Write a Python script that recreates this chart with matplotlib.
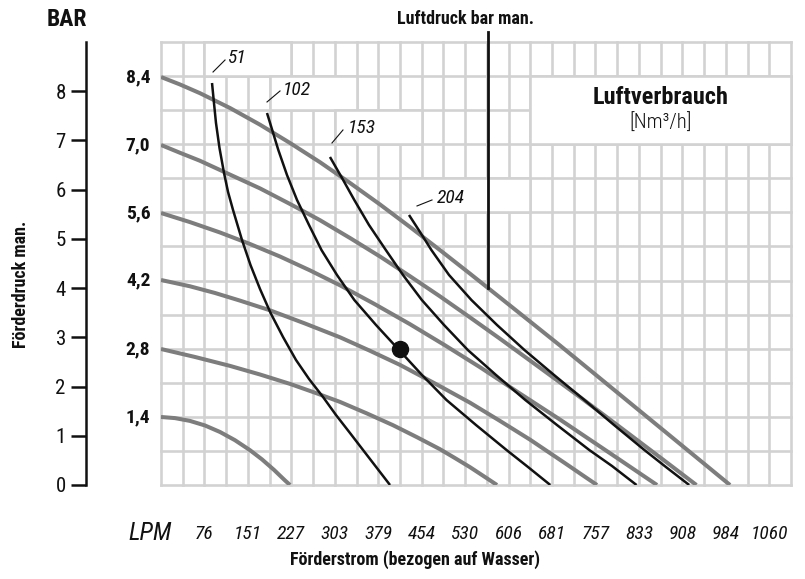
import matplotlib
matplotlib.use("Agg")
import matplotlib.pyplot as plt
from matplotlib import font_manager as fm
from matplotlib.patches import Rectangle
import numpy as np

# ---------------- font selection ----------------
_names = {f.name for f in fm.fontManager.ttflist}
FONT = "DejaVu Sans"
for cand in ["Roboto Condensed", "Liberation Sans Narrow", "Open Sans Condensed", "DejaVu Sans"]:
    if cand in _names:
        FONT = cand
        break
plt.rcParams["font.family"] = [FONT, "DejaVu Sans"]
plt.rcParams["font.stretch"] = "condensed"

# ---------------- data ----------------
lpm_ticks = [76, 151, 227, 303, 379, 454, 530, 606, 681, 757, 833, 908, 984, 1060]
bar_ticks = [0, 1, 2, 3, 4, 5, 6, 7, 8]

# air pressure curves (grey): Foerderstrom [LPM] vs Foerderdruck [bar]
air_labels = ["1,4", "2,8", "4,2", "5,6", "7,0", "8,4"]
g14_x = [0, 24.4, 50.5, 76.7, 102.8, 128.9, 155.1, 176.0, 196.9, 216.0, 224.8]
g14_y = [1.382, 1.359, 1.302, 1.209, 1.077, 0.910, 0.707, 0.520, 0.307, 0.093, 0.0]
g28_x = [0, 59.2, 120.2, 172.5, 224.8, 268.3, 311.9, 358.9, 404.2, 446.0, 486.1, 512.2, 538.4, 562.8, 585.4]
g28_y = [2.763, 2.601, 2.420, 2.245, 2.054, 1.875, 1.688, 1.453, 1.215, 0.971, 0.727, 0.547, 0.362, 0.175, 0.0]
g42_x = [0, 50.5, 94.1, 137.6, 189.9, 250.9, 311.9, 364.1, 416.4, 477.4, 538.4, 590.6, 642.9, 703.9, 759.6]
g42_y = [4.165, 4.037, 3.901, 3.746, 3.549, 3.281, 3.001, 2.727, 2.440, 2.062, 1.672, 1.302, 0.922, 0.443, 0.0]
g56_x = [0, 50.5, 102.8, 155.1, 207.3, 259.6, 311.9, 372.9, 433.8, 494.8, 555.8, 625.5, 695.2, 782.3, 864.2]
g56_y = [5.526, 5.341, 5.130, 4.896, 4.642, 4.360, 4.057, 3.671, 3.267, 2.838, 2.393, 1.857, 1.329, 0.646, 0.0]
g70_x = [0, 33.1, 67.9, 120.2, 172.5, 224.8, 277.0, 329.3, 381.6, 433.8, 486.1, 538.4, 590.6, 660.3, 730.0,
         799.7, 869.4, 932.8]
g70_y = [6.908, 6.749, 6.587, 6.306, 6.026, 5.709, 5.380, 5.018, 4.642, 4.242, 3.832, 3.405, 2.972, 2.381,
         1.786, 1.176, 0.563, 0.0]
g84_x = [0, 33.1, 67.9, 120.2, 172.5, 224.8, 277.0, 329.3, 381.6, 433.8, 486.1, 538.4, 590.6, 642.9, 695.2,
         756.2, 817.1, 878.1, 939.0, 991.4]
g84_y = [8.289, 8.137, 7.960, 7.659, 7.320, 6.948, 6.558, 6.136, 5.699, 5.242, 4.772, 4.293, 3.809, 3.322,
         2.834, 2.251, 1.668, 1.085, 0.502, 0.0]

# air consumption curves (black) [Nm3/h]
cons_labels = ["51", "102", "153", "204"]
b51_x = [88.9, 92.3, 95.8, 101.9, 109.8, 116.8, 125.5, 133.3, 141.1, 155.9, 172.5, 190.9, 212.6, 235.2,
         257.9, 282.3, 304.9, 329.3, 364.1, 399.0]
b51_y = [8.167, 7.761, 7.355, 6.847, 6.339, 5.953, 5.587, 5.282, 4.978, 4.470, 3.982, 3.495, 3.007, 2.540,
         2.154, 1.788, 1.422, 1.056, 0.528, 0.0]
b102_x = [184.7, 204.4, 219.5, 237.0, 257.9, 279.6, 306.6, 336.8, 374.6, 414.7, 454.7, 497.4, 548.8, 602.0,
          639.4, 678.3]
b102_y = [7.558, 6.806, 6.298, 5.790, 5.282, 4.774, 4.267, 3.759, 3.251, 2.743, 2.235, 1.727, 1.219, 0.711,
          0.366, 0.0]
b153_x = [294.4, 315.4, 336.8, 362.4, 391.7, 421.6, 454.4, 493.1, 534.5, 583.7, 634.7, 689.9, 746.2, 785.8, 828.5]
b153_y = [6.664, 6.237, 5.790, 5.282, 4.774, 4.267, 3.759, 3.251, 2.743, 2.235, 1.727, 1.219, 0.711, 0.386, 0.0]
b204_x = [432.1, 451.3, 471.1, 501.8, 540.8, 585.4, 633.2, 684.8, 737.7, 789.3, 842.2, 879.7, 920.3]
b204_y = [5.486, 5.140, 4.774, 4.267, 3.759, 3.251, 2.743, 2.235, 1.727, 1.219, 0.711, 0.366, 0.0]

# operating point
point_x = [416]
point_y = [2.76]

# Luftdruck marker line position [LPM]
luft_x = 570

# ---------------- styling ----------------
W, H = 805, 579
GRID = "#d2d2d2"
GREY = "#7d7d7d"
BLACK = "#111111"
N_COLS, N_ROWS = 29, 13
COL_W = 37.85
Y_MAX = 9.0
ROW_H = Y_MAX / N_ROWS

fig = plt.figure(figsize=(W / 100, H / 100), dpi=100)
ax = fig.add_axes([161 / W, 94 / H, 630 / W, 443 / H])
ax.set_xlim(0, N_COLS * COL_W)
ax.set_ylim(0, Y_MAX)


def fpx(px, py):
    return px / W, 1 - py / H


# grid
for i in range(N_COLS + 1):
    ax.plot([i * COL_W] * 2, [0, Y_MAX], color=GRID, lw=1.9, zorder=1,
            clip_on=False, solid_capstyle="projecting")
for j in range(N_ROWS + 1):
    ax.plot([0, N_COLS * COL_W], [j * ROW_H] * 2, color=GRID, lw=1.9, zorder=1,
            clip_on=False, solid_capstyle="projecting")

# white label boxes (col0, col1, row0, row1)
boxes = [(2, 6, 12, 13), (5, 9, 11, 12), (8, 12, 10, 11), (11, 17, 8, 9), (17, 29, 10, 12)]
for c0, c1, r0, r1 in boxes:
    ax.add_patch(Rectangle((c0 * COL_W, r0 * ROW_H), (c1 - c0) * COL_W, (r1 - r0) * ROW_H,
                           facecolor="white", edgecolor=GRID, lw=1.9, zorder=2, clip_on=False))

# grey curves
greys = [(g14_x, g14_y), (g28_x, g28_y), (g42_x, g42_y), (g56_x, g56_y), (g70_x, g70_y), (g84_x, g84_y)]
for (gx, gy) in greys:
    ax.plot(gx, gy, color=GREY, lw=2.9, zorder=3, solid_capstyle="butt", solid_joinstyle="round")

# black curves
blacks = [(b51_x, b51_y), (b102_x, b102_y), (b153_x, b153_y), (b204_x, b204_y)]
for (bx, by) in blacks:
    ax.plot(bx, by, color=BLACK, lw=1.8, zorder=4, solid_capstyle="butt", solid_joinstyle="round")

# operating point
ax.plot(point_x, point_y, "o", ms=11.5, color=BLACK, zorder=5)

# Luftdruck vertical line: from the 8,4 curve up above the chart
luft_y0 = float(np.interp(luft_x, g84_x, g84_y))
ax.plot([luft_x, luft_x], [luft_y0, 9.2], color=BLACK, lw=2.0, zorder=4, clip_on=False)

# left axis
for s in ["top", "right", "bottom"]:
    ax.spines[s].set_visible(False)
ax.spines["left"].set_position(("outward", 75 * 0.72))
ax.spines["left"].set_linewidth(1.8)
ax.spines["left"].set_color(BLACK)
ax.spines["left"].set_zorder(0)
ax.set_yticks(bar_ticks)
ax.set_yticklabels([str(v) for v in bar_ticks], fontsize=15)
ax.tick_params(axis="y", length=10.5, width=1.8, pad=4, colors=BLACK)
ax.set_xticks([])

# air pressure labels at start of grey curves
for lab, (gx, gy) in zip(air_labels, greys):
    ax.text(-0.017, gy[0], lab, transform=ax.get_yaxis_transform(), ha="right", va="center",
            fontsize=14, fontweight="bold", color=BLACK)

# consumption labels with leader lines (offsets in px relative to curve start)
leaders = [((1, -11), (13, -23), (25, -25)),
           ((0, -11), (13, -22), (30, -23)),
           ((2, -14), (13, -27), (32, -29)),
           ((8, -9), (23, -15), (42, -17))]
for lab, (bx, by), (l0, l1, tp) in zip(cons_labels, blacks, leaders):
    dx, dy = ax.transData.transform((bx[0], by[0]))
    p0 = ax.transData.inverted().transform((dx + l0[0], dy - l0[1]))
    p1 = ax.transData.inverted().transform((dx + l1[0], dy - l1[1]))
    pt = ax.transData.inverted().transform((dx + tp[0], dy - tp[1]))
    ax.plot([p0[0], p1[0]], [p0[1], p1[1]], color=BLACK, lw=0.8, zorder=4, clip_on=False)
    ax.text(pt[0], pt[1], lab, ha="center", va="center", fontsize=14, style="italic",
            color=BLACK, zorder=6, clip_on=False)

# x tick labels (LPM)
for v in lpm_ticks:
    ax.text(v, -0.1106, str(v), transform=ax.get_xaxis_transform(), ha="center", va="center",
            fontsize=14, style="italic", color=BLACK)
fig.text(*fpx(150, 533), "LPM", ha="center", va="center", fontsize=18, style="italic", color=BLACK)
fig.text(*fpx(415, 560), "Förderstrom (bezogen auf Wasser)", ha="center", va="center",
         fontsize=13, fontweight="bold", color=BLACK)

# other texts
fig.text(*fpx(67, 19), "BAR", ha="center", va="center", fontsize=17, fontweight="bold", color=BLACK)
fig.text(*fpx(21, 284), "Förderdruck man.", ha="center", va="center", rotation=90,
         fontsize=13, fontweight="bold", color=BLACK)
fig.text(*fpx(465, 19), "Luftdruck bar man.", ha="center", va="center", fontsize=13,
         fontweight="bold", color=BLACK)
fig.text(*fpx(661, 97), "Luftverbrauch", ha="center", va="center", fontsize=17.5,
         fontweight="bold", color=BLACK)
fig.text(*fpx(661, 123), "[Nm³/h]", ha="center", va="center", fontsize=15,
         fontweight="light", color=BLACK)

fig.savefig("out.png", dpi=100)
